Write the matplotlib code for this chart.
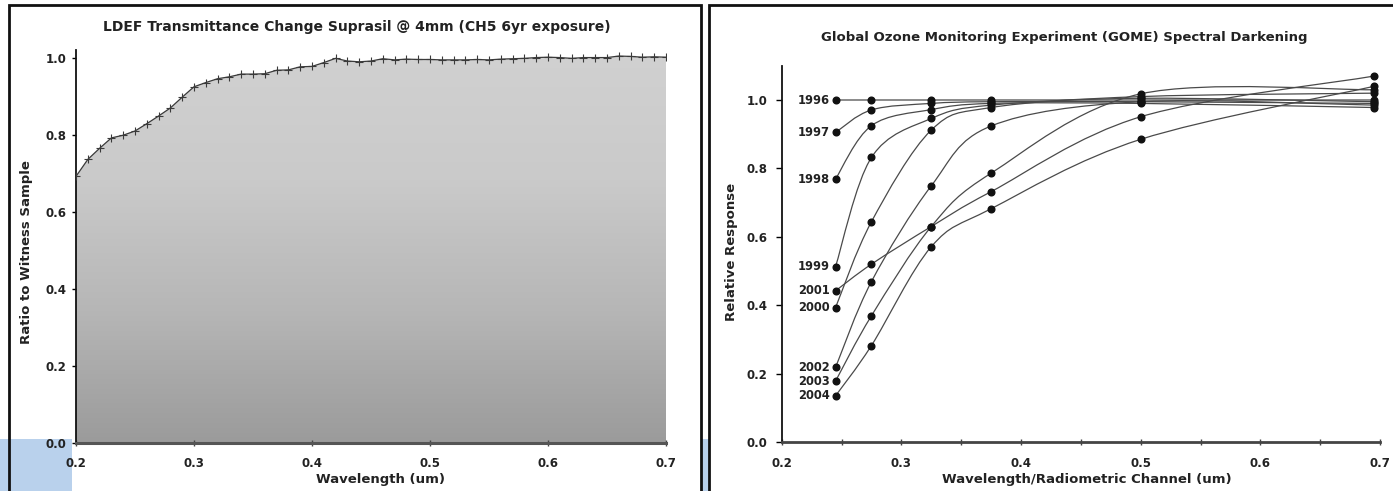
"""
Two-panel reproduction: LDEF Suprasil transmittance and GOME spectral darkening.
"""

import matplotlib
matplotlib.use("Agg")
import matplotlib.pyplot as plt
import numpy as np
from matplotlib.colors import LinearSegmentedColormap
from matplotlib.patches import PathPatch, Rectangle
from matplotlib.path import Path

W, H = 1393, 491

# --- left panel: LDEF transmittance ratio ---
ldef_wl = [0.20, 0.21, 0.22, 0.23, 0.24, 0.25, 0.26, 0.27, 0.28, 0.29,
           0.30, 0.31, 0.32, 0.33, 0.34, 0.35, 0.36, 0.37, 0.38, 0.39,
           0.40, 0.41, 0.42, 0.43, 0.44, 0.45, 0.46, 0.47, 0.48, 0.49,
           0.50, 0.51, 0.52, 0.53, 0.54, 0.55, 0.56, 0.57, 0.58, 0.59,
           0.60, 0.61, 0.62, 0.63, 0.64, 0.65, 0.66, 0.67, 0.68, 0.69, 0.70]
ldef_ratio = [0.693, 0.737, 0.766, 0.793, 0.800, 0.811, 0.830, 0.850, 0.871, 0.899,
              0.926, 0.937, 0.947, 0.952, 0.959, 0.959, 0.960, 0.969, 0.970, 0.978,
              0.979, 0.989, 1.000, 0.993, 0.991, 0.993, 0.999, 0.996, 0.998, 0.997,
              0.997, 0.996, 0.996, 0.996, 0.997, 0.996, 0.998, 0.999, 1.000, 1.002,
              1.003, 1.002, 1.000, 1.002, 1.002, 1.002, 1.006, 1.005, 1.003, 1.004, 1.003]

# --- right panel: GOME relative response per channel ---
gome_wl = [0.245, 0.275, 0.325, 0.375, 0.500, 0.695]
gome_years = ["1996", "1997", "1998", "1999", "2000", "2001", "2002", "2003", "2004"]
gome_1996 = [1.000, 1.000, 1.000, 1.000, 1.000, 1.000]
gome_1997 = [0.905, 0.971, 0.990, 0.995, 0.995, 0.990]
gome_1998 = [0.769, 0.925, 0.972, 0.990, 0.990, 0.978]
gome_1999 = [0.513, 0.832, 0.946, 0.985, 1.005, 0.995]
gome_2000 = [0.393, 0.644, 0.912, 0.978, 1.010, 1.020]
gome_2001 = [0.442, 0.520, 0.630, 0.732, 0.951, 1.070]
gome_2002 = [0.218, 0.469, 0.749, 0.924, 0.995, 0.985]
gome_2003 = [0.178, 0.369, 0.630, 0.786, 1.018, 1.030]
gome_2004 = [0.135, 0.282, 0.571, 0.682, 0.885, 1.040]
gome_series = [gome_1996, gome_1997, gome_1998, gome_1999, gome_2000,
               gome_2001, gome_2002, gome_2003, gome_2004]

x_ticks = [0.2, 0.3, 0.4, 0.5, 0.6, 0.7]
y_ticks = [0.0, 0.2, 0.4, 0.6, 0.8, 1.0]


def fx(px):
    return px / W


def fy(py):
    return 1 - py / H


def smooth_path(xs, ys):
    """Excel-like smoothed line as cubic Bezier segments through the points."""
    pts = np.column_stack([xs, ys])
    n = len(pts)
    verts = [pts[0]]
    codes = [Path.MOVETO]
    for i in range(n - 1):
        p0 = pts[i - 1] if i > 0 else pts[i]
        p1, p2 = pts[i], pts[i + 1]
        p3 = pts[i + 2] if i + 2 < n else pts[i + 1]
        verts += [p1 + (p2 - p0) / 6, p2 - (p3 - p1) / 6, p2]
        codes += [Path.CURVE4] * 3
    return Path(verts, codes)


plt.rcParams["font.family"] = ["DejaVu Sans"]
plt.rcParams["font.weight"] = "bold"

fig = plt.figure(figsize=(W / 100, H / 100), dpi=100)
fig.patch.set_facecolor("white")

# light blue strips peeking through at the bottom
blue = "#b9d1ec"
fig.add_artist(Rectangle((0, fy(491)), fx(72), fy(439) - fy(491), transform=fig.transFigure,
                         facecolor=blue, edgecolor="none", zorder=-2))
fig.add_artist(Rectangle((fx(701), fy(491)), fx(709) - fx(701), fy(439) - fy(491),
                         transform=fig.transFigure, facecolor=blue, edgecolor="none", zorder=-2))

# panel frames
fig.add_artist(Rectangle((fx(9), fy(500)), fx(701) - fx(9), fy(5) - fy(500), transform=fig.transFigure,
                         facecolor="none", edgecolor="#111111", linewidth=2.0, zorder=10))
fig.add_artist(Rectangle((fx(709), fy(500)), fx(1400) - fx(709), fy(5) - fy(500), transform=fig.transFigure,
                         facecolor="none", edgecolor="#111111", linewidth=2.0, zorder=10))

label_kw = dict(fontsize=9.5, fontweight="bold", color="#222222")
tick_kw = dict(labelsize=8.5, labelcolor="#222222")

# ---------------- left panel ----------------
ax1 = fig.add_axes([fx(76), fy(442.7), fx(666) - fx(76), fy(49.5) - fy(442.7)])
ax1.set_xlim(0.2, 0.7)
ax1.set_ylim(0, 1.023)
ax1.patch.set_alpha(0)

fill = ax1.fill_between(ldef_wl, ldef_ratio, 0, facecolor="none", edgecolor="none")
cmap = LinearSegmentedColormap.from_list("grey_grad", ["#9b9b9b", "#b6b6b6", "#cacaca", "#d1d1d1"])
grad = np.linspace(0, 1, 256).reshape(-1, 1)
im = ax1.imshow(grad, cmap=cmap, extent=[0.2, 0.7, 0, 1.023], origin="lower",
                aspect="auto", interpolation="bicubic", zorder=1)
im.set_clip_path(fill.get_paths()[0], transform=ax1.transData)

ax1.plot(ldef_wl, ldef_ratio, color="#3a3a3a", linewidth=0.9, marker="+",
         markersize=6, markeredgewidth=0.8, zorder=3)

for side in ("top", "right"):
    ax1.spines[side].set_visible(False)
ax1.spines["left"].set_color("#111111")
ax1.spines["left"].set_linewidth(1.3)
ax1.spines["bottom"].set_color("#555555")
ax1.spines["bottom"].set_linewidth(2.2)
ax1.spines["bottom"].set_zorder(4)
ax1.set_xticks(x_ticks)
ax1.set_yticks(y_ticks)
ax1.xaxis.set_major_formatter(plt.FormatStrFormatter("%.1f"))
ax1.yaxis.set_major_formatter(plt.FormatStrFormatter("%.1f"))
ax1.tick_params(axis="x", direction="inout", length=5, width=1, pad=8, color="#444444", **tick_kw)
ax1.tick_params(axis="y", direction="out", length=3, width=1, pad=4, **tick_kw)

fig.text(fx(357), fy(27), "LDEF Transmittance Change Suprasil @ 4mm (CH5 6yr exposure)",
         ha="center", va="center", fontsize=10, fontweight="bold", color="#222222")
fig.text(fx(381), fy(480), "Wavelength (um)", ha="center", va="center", **label_kw)
fig.text(fx(27), fy(252), "Ratio to Witness Sample", ha="center", va="center",
         rotation=90, **label_kw)

# ---------------- right panel ----------------
ax2 = fig.add_axes([fx(781.7), fy(442), fx(1380) - fx(781.7), fy(65.8) - fy(442)])
ax2.set_xlim(0.2, 0.7)
ax2.set_ylim(0, 1.1)

for year, vals in zip(gome_years, gome_series):
    patch = PathPatch(smooth_path(gome_wl, vals), facecolor="none", edgecolor="#4a4a4a",
                      linewidth=0.9, zorder=2)
    patch.set_clip_on(False)
    ax2.add_patch(patch)
    ax2.plot(gome_wl, vals, linestyle="none", marker="o", markersize=4.8,
             color="#111111", zorder=3, clip_on=False)
    ax2.annotate(year, (gome_wl[0], vals[0]), xytext=(-4, 0), textcoords="offset points",
                 ha="right", va="center", fontsize=8.3, fontweight="bold", color="#222222")

for side in ("top", "right"):
    ax2.spines[side].set_visible(False)
ax2.spines["left"].set_color("#111111")
ax2.spines["left"].set_linewidth(1.3)
ax2.spines["bottom"].set_color("#444444")
ax2.spines["bottom"].set_linewidth(2.0)
ax2.set_xticks(x_ticks)
ax2.set_xticks([0.25, 0.35, 0.45, 0.55, 0.65], minor=True)
ax2.set_yticks(y_ticks)
ax2.xaxis.set_major_formatter(plt.FormatStrFormatter("%.1f"))
ax2.yaxis.set_major_formatter(plt.FormatStrFormatter("%.1f"))
ax2.tick_params(axis="x", which="both", direction="inout", length=5, width=1, pad=8,
                color="#444444", **tick_kw)
ax2.tick_params(axis="y", direction="out", length=4, width=1, pad=6, **tick_kw)

fig.text(fx(1064), fy(37), "Global Ozone Monitoring Experiment (GOME) Spectral Darkening",
         ha="center", va="center", fontsize=9.5, fontweight="bold", color="#222222")
fig.text(fx(1087), fy(479), "Wavelength/Radiometric Channel (um)", ha="center", va="center",
         **label_kw)
fig.text(fx(731), fy(252), "Relative Response", ha="center", va="center", rotation=90,
         **label_kw)

fig.savefig("out.png", dpi=100)
